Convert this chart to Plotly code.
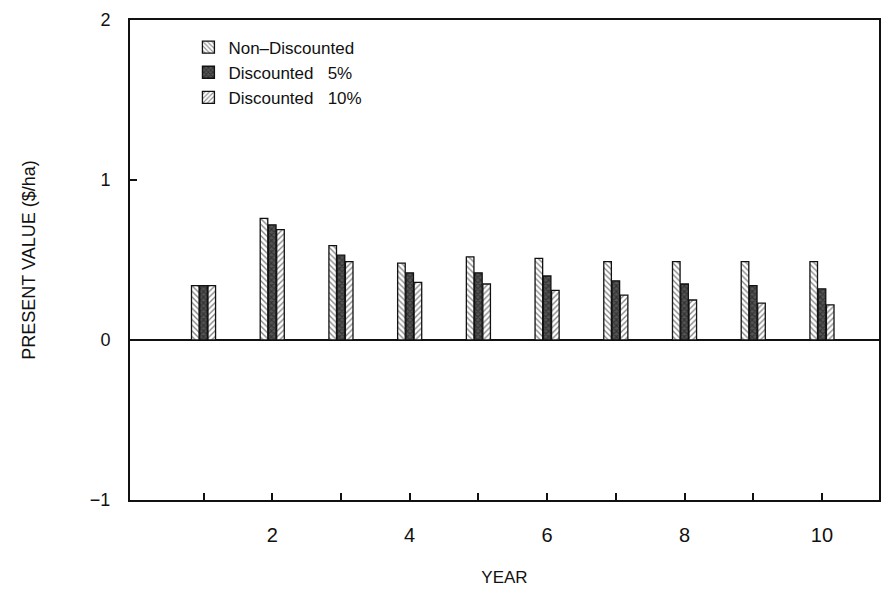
import plotly.graph_objects as go

# Present value per hectare by year, for three discounting schemes
years = [1, 2, 3, 4, 5, 6, 7, 8, 9, 10]
non_discounted = [0.34, 0.76, 0.59, 0.48, 0.52, 0.51, 0.49, 0.49, 0.49, 0.49]
discounted_5 = [0.34, 0.72, 0.53, 0.42, 0.42, 0.40, 0.37, 0.35, 0.34, 0.32]
discounted_10 = [0.34, 0.69, 0.49, 0.36, 0.35, 0.31, 0.28, 0.25, 0.23, 0.22]

x_tick_vals = [1, 2, 3, 4, 5, 6, 7, 8, 9, 10]
x_tick_text = ["", "2", "", "4", "", "6", "", "8", "", "10"]
y_tick_vals = [-1, 0, 1, 2]
y_tick_text = ["\u22121", "0", "1", "2"]

INK = "#111111"
FONT = "Liberation Sans, Arial, sans-serif"

series = [
    ("Non\u2013Discounted", non_discounted, "\\", 0.35, "white"),
    ("Discounted   5%", discounted_5, "x", 0.5, "#555555"),
    ("Discounted   10%", discounted_10, "/", 0.35, "white"),
]

fig = go.Figure()
for name, vals, shape, solidity, bg in series:
    fig.add_trace(go.Bar(
        x=years,
        y=vals,
        name=name,
        marker=dict(
            color=bg,
            line=dict(color=INK, width=1.3),
            pattern=dict(shape=shape, fgcolor=INK, bgcolor=bg,
                         size=4, solidity=solidity),
        ),
    ))

fig.update_layout(
    width=884,
    height=597,
    margin=dict(l=130, r=3, t=20, b=97),
    paper_bgcolor="white",
    plot_bgcolor="white",
    barmode="group",
    bargap=0.64,
    bargroupgap=0.08,
    font=dict(family=FONT, color=INK),
    showlegend=True,
    legend=dict(
        x=0.078, y=0.98, xanchor="left", yanchor="top",
        bgcolor="rgba(0,0,0,0)",
        font=dict(size=17, family=FONT, color=INK),
        itemwidth=30,
    ),
    xaxis=dict(
        range=[-0.07, 10.83],
        tickmode="array",
        tickvals=x_tick_vals,
        ticktext=x_tick_text,
        ticks="inside",
        ticklen=7,
        tickwidth=1.5,
        tickcolor=INK,
        ticklabelstandoff=16,
        tickfont=dict(size=20, family=FONT, color=INK),
        showline=True,
        linecolor=INK,
        linewidth=2,
        mirror=True,
        showgrid=False,
        zeroline=False,
        title=dict(text="YEAR", font=dict(size=17, family=FONT, color=INK),
                   standoff=26),
    ),
    yaxis=dict(
        range=[-1, 2],
        tickmode="array",
        tickvals=y_tick_vals,
        ticktext=y_tick_text,
        ticks="inside",
        ticklen=7,
        tickwidth=1.5,
        tickcolor=INK,
        ticklabelstandoff=14,
        tickfont=dict(size=18, family=FONT, color=INK),
        showline=True,
        linecolor=INK,
        linewidth=2,
        mirror=True,
        showgrid=False,
        zeroline=True,
        zerolinecolor=INK,
        zerolinewidth=2,
        title=dict(text="PRESENT VALUE ($/ha)",
                   font=dict(size=18, family=FONT, color=INK),
                   standoff=50),
    ),
)

fig.write_html("out.html")
